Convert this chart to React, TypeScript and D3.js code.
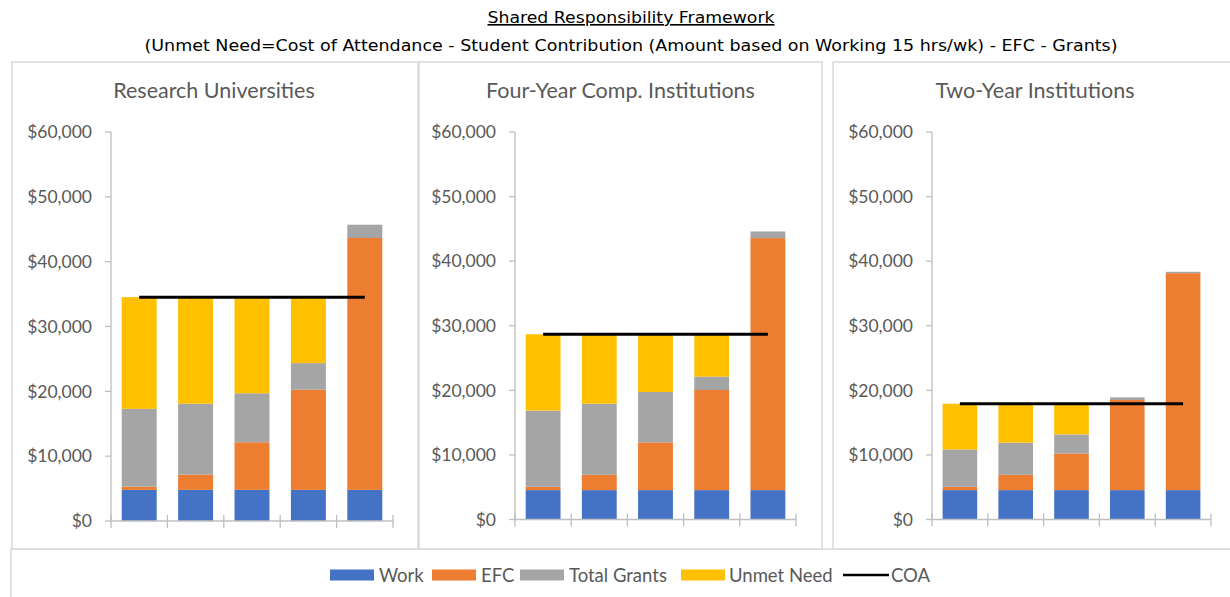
import React from "react";
import * as d3 from "d3";

// ---------- DATA ----------
const categories = ["Q1", "Q2", "Q3", "Q4", "Q5"];
const panelTitles = ["Research Universities", "Four-Year Comp. Institutions", "Two-Year Institutions"];
const seriesNames = ["Work", "EFC", "Total Grants", "Unmet Need"];
const lineName = "COA";
const yTicks = [0, 10000, 20000, 30000, 40000, 50000, 60000];

// Research Universities
const workRU = [4800, 4800, 4800, 4800, 4800];
const efcRU = [500, 2350, 7350, 15450, 38850];
const grantsRU = [12000, 10950, 7550, 4100, 2050];
const unmetRU = [17230, 16380, 14830, 10180, 0];
const coaRU = [34530, 34530, 34530, 34530, 34530];

// Four-Year Comp. Institutions
const workFY = [4550, 4550, 4550, 4550, 4550];
const efcFY = [510, 2380, 7390, 15500, 39020];
const grantsFY = [11790, 11000, 7800, 2070, 1030];
const unmetFY = [11830, 10770, 8960, 6580, 0];
const coaFY = [28700, 28700, 28700, 28700, 28700];

// Two-Year Institutions
const workTY = [4550, 4550, 4550, 4550, 4550];
const efcTY = [510, 2380, 5680, 13950, 33590];
const grantsTY = [5790, 4960, 2950, 410, 210];
const unmetTY = [7080, 6040, 4750, 0, 0];
const coaTY = [17930, 17930, 17930, 17930, 17930];

const panelSeries = [
  [workRU, efcRU, grantsRU, unmetRU],
  [workFY, efcFY, grantsFY, unmetFY],
  [workTY, efcTY, grantsTY, unmetTY],
];
const panelCOA = [coaRU, coaFY, coaTY];

// ---------- STYLE / LAYOUT ----------
const colors = ["#4472C4", "#ED7D31", "#A5A5A5", "#FFC000"];
const W = 1230;
const H = 597;
const layouts = [
  { x0: 12, x1: 418, left: 111, right: 393, bottom: 521 },
  { x0: 419, x1: 822, left: 515, right: 796, bottom: 519.5 },
  { x0: 833, x1: 1242, left: 932, right: 1211, bottom: 519.5 },
];
const panelTop = 62;
const panelBottom = 549;
const plotTop = 132;
const textGray = "#595959";
const axisGray = "#BFBFBF";
const borderGray = "#D9D9D9";

const legendItems = [
  { sw: 330, tx: 379 },
  { sw: 432, tx: 481 },
  { sw: 520, tx: 569 },
  { sw: 681, tx: 729 },
  { sw: 843, tx: 891 },
];

const fmt = (v: number) => "$" + d3.format(",")(v);

function Panel({ idx }: { idx: number }) {
  const L = layouts[idx];
  const x = d3
    .scaleBand<string>()
    .domain(categories)
    .range([L.left, L.right])
    .paddingInner(0.38)
    .paddingOuter(0.19);
  const y = d3.scaleLinear().domain([0, 60000]).range([L.bottom, plotTop]);
  const series = panelSeries[idx];
  const rows = categories.map((c, i) => {
    const r: any = { cat: c };
    seriesNames.forEach((s, k) => (r[s] = series[k][i]));
    return r;
  });
  const stacked = d3.stack<any>().keys(seriesNames)(rows);
  const step = x.step();
  const boundaries = d3.range(categories.length + 1).map((i) => L.left + i * step);
  const coa = panelCOA[idx];
  const line = d3
    .line<number>()
    .x((_, i) => (x(categories[i]) as number) + x.bandwidth() / 2)
    .y((d) => y(d));
  const cx = (L.x0 + Math.min(L.x1, L.x0 + 404)) / 2;
  return (
    <g>
      <rect x={L.x0} y={panelTop} width={L.x1 - L.x0} height={panelBottom - panelTop} fill="#fff" stroke={borderGray} strokeWidth={1.5} />
      <text x={cx} y={98} textAnchor="middle" fontFamily="Lato, 'Open Sans', sans-serif" fontSize={21.5} fill={textGray}>
        {panelTitles[idx]}
      </text>
      {/* y axis */}
      <line x1={L.left} x2={L.left} y1={plotTop} y2={L.bottom} stroke={axisGray} strokeWidth={1.3} />
      {yTicks.map((t) => (
        <g key={t}>
          <line x1={L.left - 6} x2={L.left} y1={y(t)} y2={y(t)} stroke={axisGray} strokeWidth={1.3} />
          <text x={L.left - 19} y={y(t)} dy="0.36em" textAnchor="end" fontFamily="Lato, 'Open Sans', sans-serif" fontSize={17.5} fill={textGray}>
            {fmt(t)}
          </text>
        </g>
      ))}
      {/* bars */}
      {stacked.map((s, k) => (
        <g key={k} fill={colors[k]}>
          {s.map((d, i) =>
            d[1] - d[0] > 0 ? (
              <rect key={i} x={x(categories[i])} width={x.bandwidth()} y={y(d[1])} height={y(d[0]) - y(d[1])} />
            ) : null
          )}
        </g>
      ))}
      {/* x axis */}
      <line x1={L.left} x2={L.right} y1={L.bottom} y2={L.bottom} stroke={axisGray} strokeWidth={1.3} />
      {boundaries.map((bx, i) => (
        <line key={i} x1={bx} x2={bx} y1={L.bottom - 6} y2={L.bottom + 7} stroke={axisGray} strokeWidth={1.3} />
      ))}
      {/* COA line */}
      <path d={line(coa) as string} fill="none" stroke="#000" strokeWidth={3} />
    </g>
  );
}

export default function App() {
  const fontT = "'DejaVu Sans', Verdana, sans-serif";
  return (
    <svg width={W} height={H} style={{ position: "absolute", left: 0, top: 0, background: "#fff" }}>
      <rect x={0} y={0} width={W} height={H} fill="#fff" />
      <text x={631} y={23} textAnchor="middle" fontFamily={fontT} fontSize={16} fill="#000" textDecoration="underline" textLength={287} lengthAdjust="spacingAndGlyphs">
        Shared Responsibility Framework
      </text>
      <text x={631} y={51} textAnchor="middle" fontFamily={fontT} fontSize={16} fill="#000" textLength={973} lengthAdjust="spacingAndGlyphs">
        (Unmet Need=Cost of Attendance - Student Contribution (Amount based on Working 15 hrs/wk) - EFC - Grants)
      </text>
      <rect x={11} y={549} width={1240} height={60} fill="#fff" stroke={borderGray} strokeWidth={1.5} />
      {[0, 1, 2].map((i) => (
        <Panel key={i} idx={i} />
      ))}
      {/* legend */}
      {legendItems.map((it, i) => (
        <g key={i}>
          {i < 4 ? (
            <rect x={it.sw} y={569.5} width={44} height={11} fill={colors[i]} />
          ) : (
            <line x1={it.sw} x2={it.sw + 46} y1={575} y2={575} stroke="#000" strokeWidth={2.5} />
          )}
          <text x={it.tx} y={581.5} fontFamily="Lato, 'Open Sans', sans-serif" fontSize={18.5} fill={textGray}>
            {i < 4 ? seriesNames[i] : lineName}
          </text>
        </g>
      ))}
    </svg>
  );
}
